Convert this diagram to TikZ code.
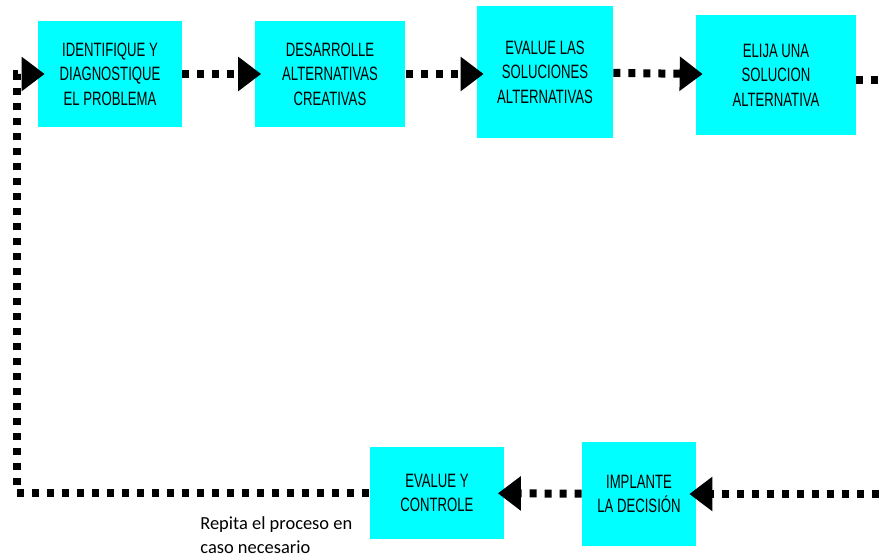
\documentclass[tikz,border=0pt]{standalone}
\usepackage{fontspec}
\setsansfont{Liberation Sans}[FakeStretch=0.68]
\newfontfamily\notafont{Carlito}
\usetikzlibrary{arrows.meta}
\definecolor{turquesa}{RGB}{0,255,255}

\begin{document}
\begin{tikzpicture}[x=0.02cm,y=-0.02cm,
    caja/.style={fill=turquesa,inner sep=0pt,align=center,
    font=\sffamily\fontsize{11}{14}\selectfont},
    flecha/.style={line width=0.16cm,dash pattern=on 0.14cm off 0.16cm,
    -{Triangle[length=0.46cm,width=0.66cm]},shorten >=-0.14cm},
    punteada/.style={line width=0.16cm,dash pattern=on 0.14cm off 0.16cm}]

  \useasboundingbox (0,0) rectangle (879,560);

  \node[caja,minimum width=2.88cm,minimum height=2.12cm] (IDEN) at (110,74)
    {IDENTIFIQUE Y\\DIAGNOSTIQUE\\EL PROBLEMA};
  \node[caja,minimum width=3.02cm,minimum height=2.12cm] (DESA) at (330,74)
    {DESARROLLE\\ALTERNATIVAS\\CREATIVAS};
  \node[caja,minimum width=2.72cm,minimum height=2.66cm] (EVAL) at (545,72)
    {EVALUE LAS\\SOLUCIONES\\ALTERNATIVAS};
  \node[caja,minimum width=3.2cm,minimum height=2.42cm] (ELIJ) at (776,75)
    {ELIJA UNA\\SOLUCION\\ALTERNATIVA};
  \node[caja,minimum width=2.28cm,minimum height=2.08cm] (IMPL) at (639,494)
    {IMPLANTE\\LA DECISIÓN};
  \node[caja,minimum width=2.7cm,minimum height=1.84cm] (CONT) at (437,493)
    {EVALUE Y\\CONTROLE};

  \node[anchor=north west,inner sep=0pt,align=left,
    font=\notafont\fontsize{10.5}{13.6}\selectfont] (NOTA) at (200,516)
    {Repita el proceso en\\caso necesario};

  % salidas por el borde derecho
  \coordinate (DER1) at (879,80);
  \coordinate (DER2) at (879,494);
  \coordinate (ESQ) at (17,493);

  \draw[flecha] (IDEN) -- (DESA);
  \draw[flecha] (DESA.east) -- (EVAL.west |- DESA.east);
  \draw[flecha] (EVAL) -- (ELIJ);
  \draw[punteada] (ELIJ.east |- DER1) -- (DER1);

  \draw[flecha] (DER2) -- (IMPL.east);
  \draw[flecha] (IMPL) -- (CONT);
  \draw[flecha] (CONT.west) -- (ESQ) |- (IDEN.west);

\end{tikzpicture}
\end{document}
